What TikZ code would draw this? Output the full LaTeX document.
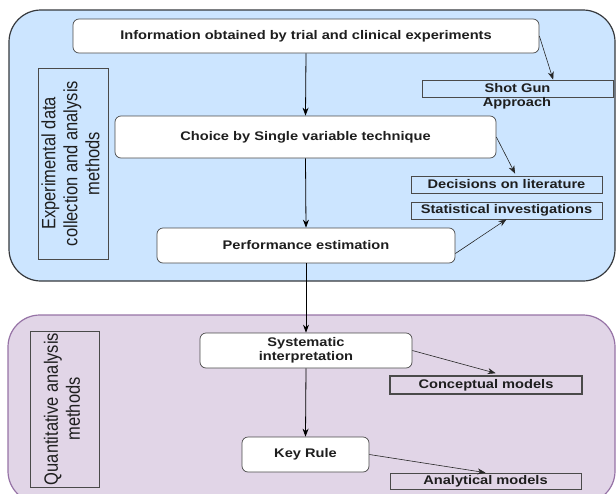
\documentclass[tikz,border=0pt]{standalone}
\usepackage{fontspec}
\setmainfont[FakeStretch=1.17]{Liberation Sans}
\newfontfamily\vfont{Liberation Sans}
\usetikzlibrary{arrows.meta,calc}
\definecolor{bluefill}{HTML}{CCE5FF}
\definecolor{blueedge}{HTML}{36393D}
\definecolor{purpfill}{HTML}{E1D5E7}
\definecolor{purpedge}{HTML}{9673A6}
\definecolor{txt}{HTML}{1E1E1E}
\definecolor{boxedge}{HTML}{4A4A4A}
\newcommand{\vlabel}[1]{\scalebox{1}[1.17]{\vfont\fontsize{16.5}{18.8}\selectfont\begin{tabular}{@{}c@{}}#1\end{tabular}}}
\tikzset{
  panelA/.style={draw=blueedge, fill=bluefill, line width=1.2pt, rounded corners=32pt},
  panelB/.style={draw=purpedge, fill=purpfill, line width=1.2pt, rounded corners=32pt},
  stepbox/.style={draw=boxedge, fill=white, rounded corners=6pt, line width=0.7pt, inner sep=0pt,
     align=center, font=\bfseries\fontsize{12.5}{14}\selectfont, text=txt},
  tagbox/.style={draw=boxedge, line width=0.7pt, inner sep=0pt, minimum width=191pt, minimum height=17pt,
     align=center, font=\bfseries\fontsize{12.5}{14}\selectfont, text=txt},
  plaintext/.style={inner sep=0pt, align=center, font=\bfseries\fontsize{12.5}{14}\selectfont, text=txt},
  sidelabel/.style={draw=boxedge, line width=0.8pt, inner sep=0pt, rotate=90, text=txt},
  arr/.style={draw=black, line width=0.8pt, -{Stealth[length=8pt,width=6pt]}},
  thinarr/.style={draw=black!85, line width=0.6pt, -{Stealth[length=8pt,width=6pt]}},
}
\begin{document}
\begin{tikzpicture}[x=1pt,y=-1pt]
\useasboundingbox (0,0) rectangle (616,493);
% panels
\draw[panelA] (9,10) rectangle (615,281);
\draw[panelB] (8,315) rectangle (615,503);
% side labels
\node[sidelabel, minimum width=191pt, minimum height=70pt] (lab1) at (73,163.5)
  {\vlabel{Experimental data\\collection and analysis\\methods}};
\node[sidelabel, minimum width=156pt, minimum height=69pt] (lab2) at (64.5,409)
  {\vlabel{Quantitative analysis\\methods}};
% main steps
\node[stepbox, minimum width=466pt, minimum height=34pt] (info) at (306,36) {Information obtained by trial and clinical experiments};
\node[stepbox, minimum width=381pt, minimum height=42pt] (choice) at (305.5,137) {Choice by Single variable technique};
\node[stepbox, minimum width=298pt, minimum height=35pt] (perf) at (306,245.5) {Performance estimation};
\node[stepbox, minimum width=212pt, minimum height=35pt] (sys) at (306,350.5) {Systematic\\interpretation};
\node[stepbox, minimum width=127pt, minimum height=35pt] (key) at (305.5,454.5) {Key Rule};
% tags
\node[tagbox] (sg) at (517.5,88.5) {Shot Gun};
\node[plaintext] (sga) at (517,103.5) {Approach};
\node[tagbox] (dec) at (506.5,184.5) {Decisions on literature};
\node[tagbox] (stat) at (506.5,210.5) {Statistical investigations};
\node[tagbox, line width=1.6pt, minimum width=192pt, minimum height=18pt] (conc) at (486,385) {Conceptual models};
\node[tagbox, minimum height=16pt] (anal) at (485.5,481) {Analytical models};
% main connectors
\draw[arr] (info.south) -- (choice.north);
\draw[arr] (choice.south) -- (perf.north);
\draw[arr] (perf.south) -- (sys.north);
\draw[arr] (sys.south) -- (key.north);
% side connectors
\draw[thinarr] (info.east) -- ($(sg.north west)!0.686!(sg.north east)$);
\draw[thinarr] (choice.east) -- ($(dec.north west)!0.545!(dec.north east)+(0,-2)$);
\draw[thinarr] ($(perf.east)+(0,8)$) -- (stat.south);
\draw[thinarr] (sys.east) -- ($(conc.north west)!0.55!(conc.north east)+(0,-2)$);
\draw[thinarr] (key.east) -- (anal.north);
\end{tikzpicture}
\end{document}
